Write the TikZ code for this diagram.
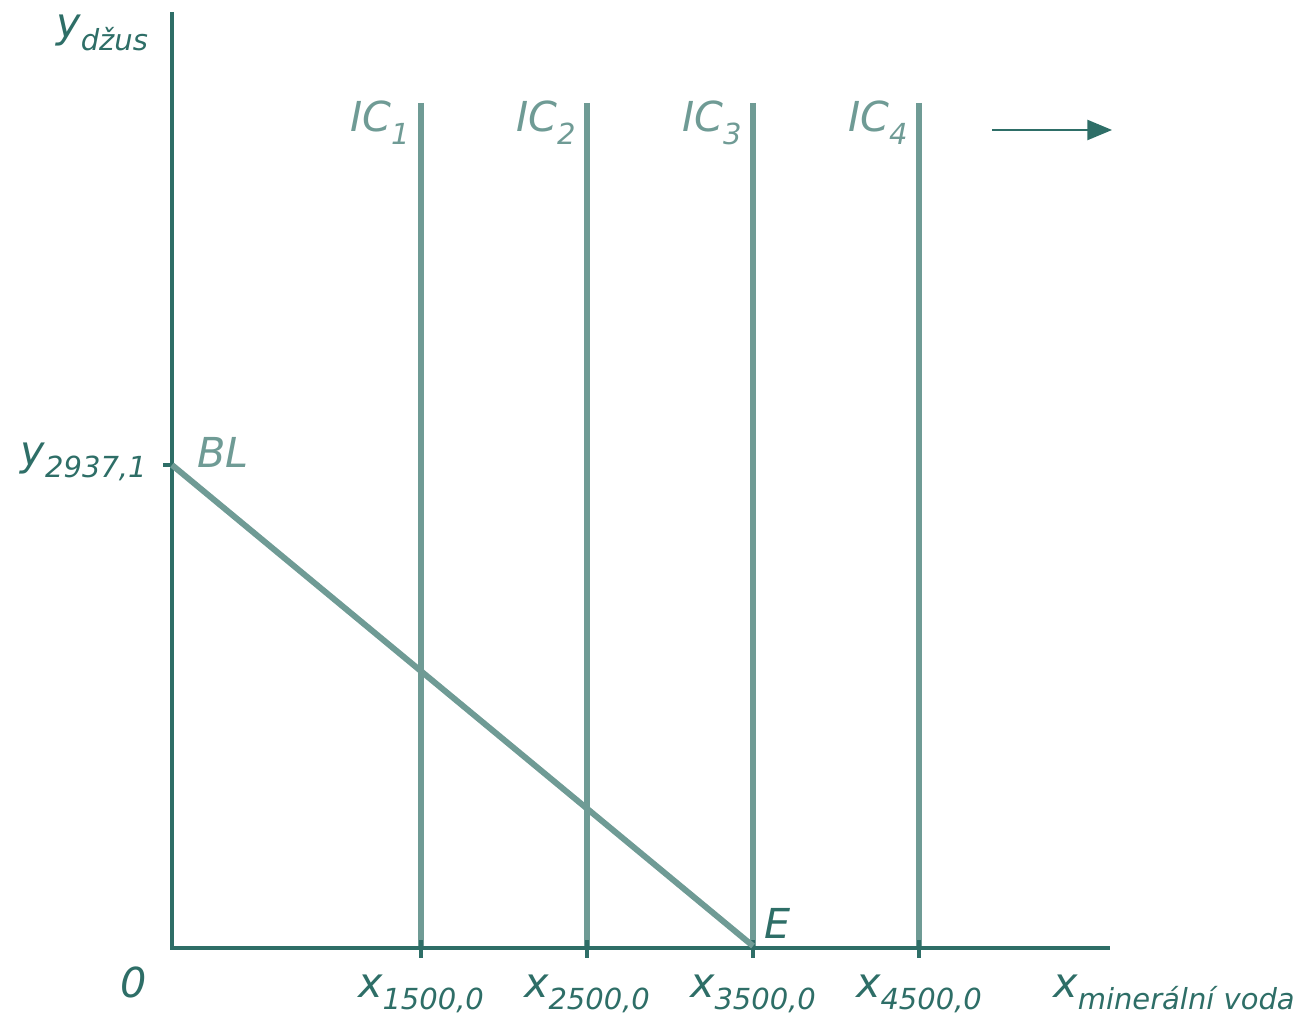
\documentclass[tikz,border=0pt]{standalone}
\usepackage{fontspec}
\setmainfont{DejaVu Sans}
\usetikzlibrary{arrows.meta,positioning}
\definecolor{axisteal}{HTML}{2E6E67}
\definecolor{curveteal}{HTML}{6F9B95}
\newcommand{\sublbl}[2]{#1\raisebox{-7pt}{\fontsize{16.5}{19}\selectfont #2}}

\begin{document}
\begin{tikzpicture}[x=0.02cm, y=-0.02cm,
  every node/.style={font=\fontsize{23.5}{27}\selectfont\itshape, inner sep=0pt},
  axis/.style={draw=axisteal, line width=2.3pt},
  curve/.style={draw=curveteal, line width=3.4pt},
  tickmark/.style={draw=axisteal, line width=2pt}
]
  \useasboundingbox (0,0) rectangle (1307,1016);

  % axes
  \coordinate (O) at (172,948);
  \coordinate (ytop) at (172,12);
  \coordinate (xend) at (1110,948);
  \draw[axis] (ytop) -- (O) -- (xend);

  % vertical indifference curves, ticks and quantities
  \foreach \i/\x/\q in {1/421/1500, 2/587/2500, 3/753/3500, 4/919/4500} {
    \coordinate (ic\i top) at (\x,103);
    \coordinate (ic\i bot) at (\x,946);
    \coordinate (tk\i a) at (\x,940);
    \coordinate (tk\i b) at (\x,958);
    \draw[curve] (ic\i top) -- (ic\i bot);
    \draw[tickmark] (tk\i a) -- (tk\i b);
    \node[anchor=base east, text=curveteal] (iclbl\i) at (\x-11,132) {\sublbl{IC}{\i}};
    \node[anchor=base, text=axisteal] (xlbl\i) at (\x,997) {\sublbl{x}{\q,0}};
  }

  % budget line
  \coordinate (bl) at (172,465);
  \coordinate (ytk) at (163,465);
  \draw[tickmark] (ytk) -- (bl);
  \draw[curve] (bl) -- (ic3bot);

  % labels
  \node[anchor=base west, text=axisteal] (ylbl) at (56,38) {\sublbl{y}{džus}};
  \node[anchor=base east, text=axisteal] (yint) at (147,465) {\sublbl{y}{2937,1}};
  \node[anchor=base west, text=curveteal] (bllbl) at (197,467) {BL};
  \node[anchor=base, text=axisteal] (zero) at (134,997) {0};
  \node[anchor=base west, text=axisteal] (elbl) at (764,938) {E};
  \node[anchor=base west, text=axisteal] (xlbl) at (1053,997) {\sublbl{x}{minerální voda}};

  % shift arrow
  \coordinate (sa) at (992,130);
  \coordinate (sb) at (1112,130);
  \draw[-{Triangle[length=14pt,width=11.5pt]}, draw=axisteal, fill=axisteal, line width=0.8pt] (sa) -- (sb);
\end{tikzpicture}
\end{document}
